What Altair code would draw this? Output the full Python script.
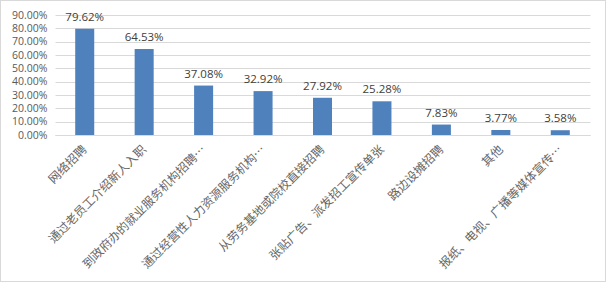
import altair as alt
import pandas as pd

categories = [
    "网络招聘",
    "通过老员工介绍新人入职",
    "到政府办的就业服务机构招聘…",
    "通过经营性人力资源服务机构…",
    "从劳务基地或院校直接招聘",
    "张贴广告、派发招工宣传单张",
    "路边设摊招聘",
    "其他",
    "报纸、电视、广播等媒体宣传…",
]
values = [0.7962, 0.6453, 0.3708, 0.3292, 0.2792, 0.2528, 0.0783, 0.0377, 0.0358]

df = pd.DataFrame({"cat": categories, "val": values})

FONT = "Noto Sans CJK SC"
NUMFONT = "Open Sans"
GREY = "#595959"

x = alt.X("cat:N", sort=categories, title=None,
          scale=alt.Scale(paddingInner=0.68, paddingOuter=0.34),
          axis=alt.Axis(labelAngle=-45, labelAlign="right", labelBaseline="middle",
                        labelFontSize=12, labelColor="#666666", labelFont=FONT,
                        ticks=False, domain=True, domainColor="#d9d9d9",
                        labelPadding=12, labelLimit=300, labelOverlap=False))
y = alt.Y("val:Q", title=None,
          scale=alt.Scale(domain=[0, 0.9], nice=False),
          axis=alt.Axis(format=".2%", values=[i / 10 for i in range(10)],
                        labelFontSize=10.5, labelColor=GREY, labelFont=NUMFONT,
                        domain=False, ticks=False, gridColor="#d9d9d9",
                        labelPadding=8, labelOverlap=False))

bars = alt.Chart(df).mark_bar(color="#4F81BD").encode(x=x, y=y)
text = alt.Chart(df).mark_text(baseline="bottom", dy=-6, fontSize=11.5,
                               color="#404040", font=NUMFONT).encode(
    x=x, y=y,
    text=alt.Text("val:Q", format=".2%"))

border = alt.Chart(df).mark_rect(fill=None, stroke="#d9d9d9", strokeWidth=1).encode(
    x=alt.value(-54.5), x2=alt.value(550.5), y=alt.value(-14.5), y2=alt.value(266.5))

chart = (bars + text + border).properties(
    width=535, height=120,
    padding={"left": 55, "top": 15, "right": 16, "bottom": 147},
    autosize=alt.AutoSizeParams(type="none"),
).configure_view(stroke=None)

chart.save("out.html", embed_options={"renderer": "svg", "actions": False})
